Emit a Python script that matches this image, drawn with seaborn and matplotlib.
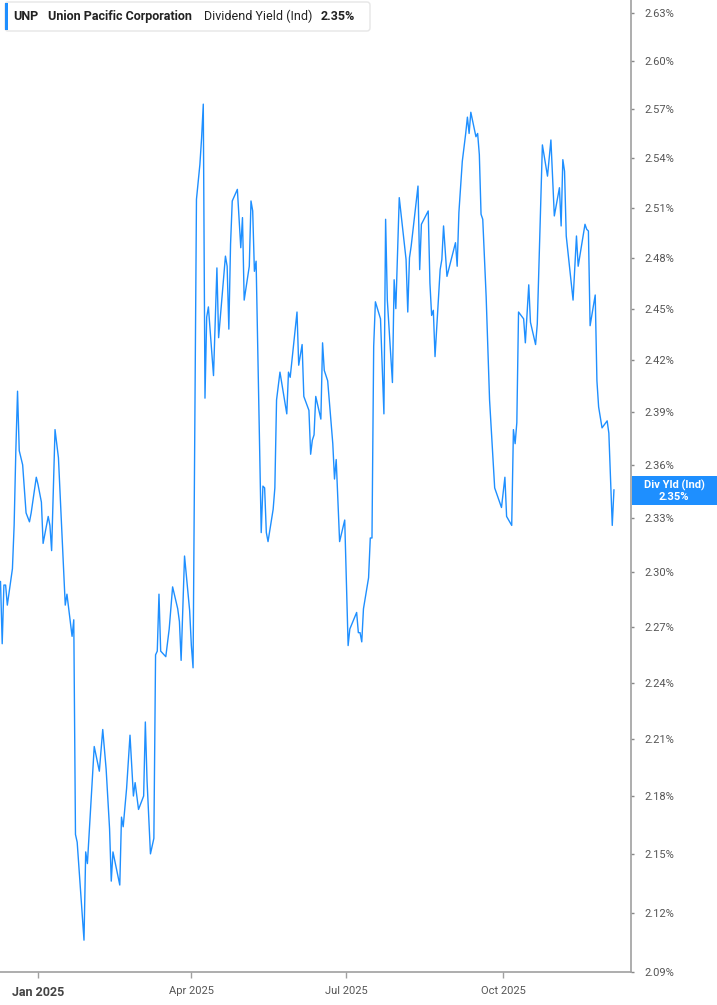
import matplotlib
matplotlib.use('Agg')
import matplotlib.pyplot as plt
from matplotlib.ticker import FixedLocator, FuncFormatter, NullLocator
from matplotlib.patches import FancyBboxPatch, Rectangle
from matplotlib.transforms import IdentityTransform
import seaborn as sns
import pandas as pd

# ---------------- data ----------------
dates = [
    "2024-12-10", "2024-12-11", "2024-12-12", "2024-12-13", "2024-12-14", "2024-12-17", "2024-12-18", "2024-12-19", "2024-12-20", "2024-12-21",
    "2024-12-23", "2024-12-25", "2024-12-27", "2024-12-28", "2024-12-31", "2025-01-01", "2025-01-03", "2025-01-04", "2025-01-07", "2025-01-08",
    "2025-01-09", "2025-01-11", "2025-01-13", "2025-01-15", "2025-01-17", "2025-01-18", "2025-01-21", "2025-01-22", "2025-01-23", "2025-01-24",
    "2025-01-28", "2025-01-29", "2025-01-30", "2025-02-03", "2025-02-06", "2025-02-08", "2025-02-10", "2025-02-12", "2025-02-13", "2025-02-14",
    "2025-02-18", "2025-02-19", "2025-02-20", "2025-02-22", "2025-02-24", "2025-02-26", "2025-02-27", "2025-03-01", "2025-03-04", "2025-03-05",
    "2025-03-06", "2025-03-08", "2025-03-10", "2025-03-11", "2025-03-12", "2025-03-13", "2025-03-14", "2025-03-17", "2025-03-19", "2025-03-21",
    "2025-03-24", "2025-03-25", "2025-03-26", "2025-03-28", "2025-03-31", "2025-04-01", "2025-04-02", "2025-04-04", "2025-04-06", "2025-04-07",
    "2025-04-08", "2025-04-09", "2025-04-10", "2025-04-11", "2025-04-14", "2025-04-16", "2025-04-17", "2025-04-20", "2025-04-21", "2025-04-22",
    "2025-04-23", "2025-04-24", "2025-04-25", "2025-04-28", "2025-04-30", "2025-05-01", "2025-05-02", "2025-05-05", "2025-05-06", "2025-05-07",
    "2025-05-08", "2025-05-09", "2025-05-12", "2025-05-13", "2025-05-14", "2025-05-15", "2025-05-16", "2025-05-19", "2025-05-20", "2025-05-21",
    "2025-05-23", "2025-05-27", "2025-05-28", "2025-05-29", "2025-06-02", "2025-06-03", "2025-06-05", "2025-06-06", "2025-06-09", "2025-06-10",
    "2025-06-11", "2025-06-12", "2025-06-13", "2025-06-16", "2025-06-17", "2025-06-18", "2025-06-20", "2025-06-23", "2025-06-24", "2025-06-25",
    "2025-06-27", "2025-06-30", "2025-07-02", "2025-07-03", "2025-07-07", "2025-07-08", "2025-07-09", "2025-07-10", "2025-07-11", "2025-07-14",
    "2025-07-15", "2025-07-16", "2025-07-17", "2025-07-18", "2025-07-21", "2025-07-23", "2025-07-24", "2025-07-25", "2025-07-28", "2025-07-29",
    "2025-07-30", "2025-08-01", "2025-08-05", "2025-08-06", "2025-08-07", "2025-08-08", "2025-08-12", "2025-08-13", "2025-08-14", "2025-08-18",
    "2025-08-19", "2025-08-20", "2025-08-21", "2025-08-22", "2025-08-25", "2025-08-26", "2025-08-27", "2025-08-29", "2025-09-03", "2025-09-04",
    "2025-09-05", "2025-09-07", "2025-09-09", "2025-09-10", "2025-09-11", "2025-09-12", "2025-09-15", "2025-09-16", "2025-09-17", "2025-09-18",
    "2025-09-19", "2025-09-21", "2025-09-23", "2025-09-26", "2025-09-30", "2025-10-02", "2025-10-03", "2025-10-06", "2025-10-07", "2025-10-08",
    "2025-10-09", "2025-10-10", "2025-10-13", "2025-10-14", "2025-10-16", "2025-10-17", "2025-10-20", "2025-10-21", "2025-10-24", "2025-10-27",
    "2025-10-29", "2025-10-31", "2025-11-03", "2025-11-04", "2025-11-05", "2025-11-06", "2025-11-07", "2025-11-11", "2025-11-13", "2025-11-14",
    "2025-11-18", "2025-11-19", "2025-11-20", "2025-11-21", "2025-11-24", "2025-11-25", "2025-11-26", "2025-11-28", "2025-12-01", "2025-12-02",
    "2025-12-04", "2025-12-05",
]

div_yield = [
    2.295, 2.261, 2.293, 2.293, 2.282, 2.302, 2.326, 2.368, 2.402, 2.368,
    2.360, 2.333, 2.328, 2.333, 2.353, 2.349, 2.339, 2.316, 2.331, 2.326,
    2.312, 2.380, 2.364, 2.322, 2.282, 2.288, 2.265, 2.274, 2.160, 2.156,
    2.106, 2.151, 2.145, 2.206, 2.193, 2.215, 2.194, 2.163, 2.136, 2.151,
    2.134, 2.169, 2.164, 2.184, 2.212, 2.180, 2.187, 2.173, 2.180, 2.219,
    2.188, 2.150, 2.158, 2.255, 2.257, 2.288, 2.257, 2.254, 2.269, 2.292,
    2.280, 2.273, 2.252, 2.309, 2.279, 2.260, 2.248, 2.515, 2.536, 2.552,
    2.573, 2.398, 2.445, 2.451, 2.411, 2.474, 2.433, 2.469, 2.481, 2.475,
    2.438, 2.488, 2.514, 2.521, 2.486, 2.504, 2.455, 2.475, 2.514, 2.508,
    2.472, 2.478, 2.322, 2.348, 2.347, 2.322, 2.317, 2.335, 2.347, 2.397,
    2.413, 2.389, 2.413, 2.410, 2.448, 2.417, 2.429, 2.399, 2.391, 2.366,
    2.374, 2.377, 2.399, 2.386, 2.430, 2.414, 2.408, 2.372, 2.352, 2.363,
    2.317, 2.329, 2.260, 2.269, 2.278, 2.267, 2.267, 2.262, 2.280, 2.297,
    2.319, 2.319, 2.428, 2.454, 2.444, 2.389, 2.503, 2.455, 2.407, 2.467,
    2.450, 2.516, 2.479, 2.448, 2.480, 2.487, 2.523, 2.473, 2.500, 2.508,
    2.465, 2.446, 2.449, 2.422, 2.473, 2.479, 2.499, 2.469, 2.489, 2.475,
    2.507, 2.538, 2.555, 2.565, 2.555, 2.568, 2.553, 2.555, 2.542, 2.506,
    2.503, 2.457, 2.397, 2.347, 2.336, 2.353, 2.331, 2.326, 2.380, 2.372,
    2.384, 2.448, 2.444, 2.430, 2.464, 2.442, 2.429, 2.441, 2.548, 2.529,
    2.551, 2.505, 2.522, 2.499, 2.539, 2.532, 2.493, 2.455, 2.493, 2.475,
    2.500, 2.497, 2.496, 2.440, 2.458, 2.408, 2.393, 2.381, 2.385, 2.378,
    2.326, 2.346,
]

ytick_values = [2.09, 2.12, 2.15, 2.18, 2.21, 2.24, 2.27, 2.30, 2.33, 2.36,
                2.39, 2.42, 2.45, 2.48, 2.51, 2.54, 2.57, 2.60, 2.63]
xtick_dates = ["2025-01-01", "2025-04-01", "2025-07-01", "2025-10-01"]
xtick_labels = ["Jan 2025", "Apr 2025", "Jul 2025", "Oct 2025"]

ticker_symbol = "UNP"
company = "Union Pacific Corporation"
metric = "Dividend Yield (Ind)"
last_label = "Div Yld (Ind)"
last_value = "2.35%"

# ---------------- style ----------------
sns.set_style('white')
plt.rcParams['font.family'] = ['Roboto', 'DejaVu Sans']

LINE = '#1e8fff'
AXIS = '#a0a0a0'
TXT = '#555555'

W, H = 717, 1005
fig = plt.figure(figsize=(W / 100, H / 100), dpi=100)
fig.patch.set_facecolor('white')
ax = fig.add_axes([0, 33 / H, 631 / W, 972 / H])

df = pd.DataFrame({'date': pd.to_datetime(dates), 'yield': div_yield})
sns.lineplot(data=df, x='date', y='yield', ax=ax, color=LINE, linewidth=1.0)

ax.set_yscale('log')
ax.set_ylim(2.09, 2.638)
ax.set_xlim(pd.Timestamp('2024-12-09 17:00'), pd.Timestamp('2025-12-15'))
ax.set_xlabel('')
ax.set_ylabel('')

ax.yaxis.set_major_locator(FixedLocator(ytick_values))
ax.yaxis.set_minor_locator(NullLocator())
ax.yaxis.set_major_formatter(FuncFormatter(lambda v, p: f'{v:.2f}%'))
ax.yaxis.tick_right()

ax.set_xticks(pd.to_datetime(xtick_dates))
ax.set_xticklabels(xtick_labels)
ax.xaxis.set_minor_locator(NullLocator())

for s in ['left', 'top']:
    ax.spines[s].set_visible(False)
for s in ['bottom', 'right']:
    ax.spines[s].set_visible(True)
    ax.spines[s].set_color(AXIS)
    ax.spines[s].set_linewidth(1.2)

ax.tick_params(axis='y', which='major', right=True, left=False, length=2.5,
               width=1, color='#888888', labelcolor=TXT, labelsize=8, pad=7)
ax.tick_params(axis='x', which='major', bottom=True, length=4, width=1,
               color=AXIS, labelcolor=TXT, labelsize=8, pad=6)
for i, lab in enumerate(ax.get_xticklabels()):
    if i == 0:
        lab.set_fontweight('bold')
        lab.set_fontsize(9)
        lab.set_color('#444444')
ax.grid(False)

# ---------------- header box ----------------
ident = IdentityTransform()
hdr = FancyBboxPatch((5, H - 31), 365, 29, boxstyle='round,pad=0,rounding_size=3',
                     transform=ident, facecolor='white', edgecolor='#e6e6e6', linewidth=1)
fig.patches.append(hdr)
bar = Rectangle((5, H - 30), 3, 27, transform=ident, facecolor=LINE, edgecolor='none')
fig.patches.append(bar)

hy = H - 16
fig.text(13, hy, ticker_symbol, transform=ident, va='center', ha='left',
         fontsize=9, fontweight='bold', color='#222222')
fig.text(48, hy, company, transform=ident, va='center', ha='left',
         fontsize=9, fontweight='bold', color='#222222')
fig.text(204, hy, metric, transform=ident, va='center', ha='left',
         fontsize=9, color='#222222')
fig.text(321, hy, last_value, transform=ident, va='center', ha='left',
         fontsize=9, fontweight='bold', color='#222222')

# ---------------- last value tag ----------------
tag = Rectangle((632, H - 505), 85, 29, transform=ident, facecolor=LINE, edgecolor='none')
fig.patches.append(tag)
fig.text(674, H - 485, last_label, transform=ident, va='center', ha='center',
         fontsize=8, fontweight='bold', color='white')
fig.text(674, H - 497, last_value, transform=ident, va='center', ha='center',
         fontsize=8, fontweight='bold', color='white')

fig.savefig('out.png', dpi=100)
